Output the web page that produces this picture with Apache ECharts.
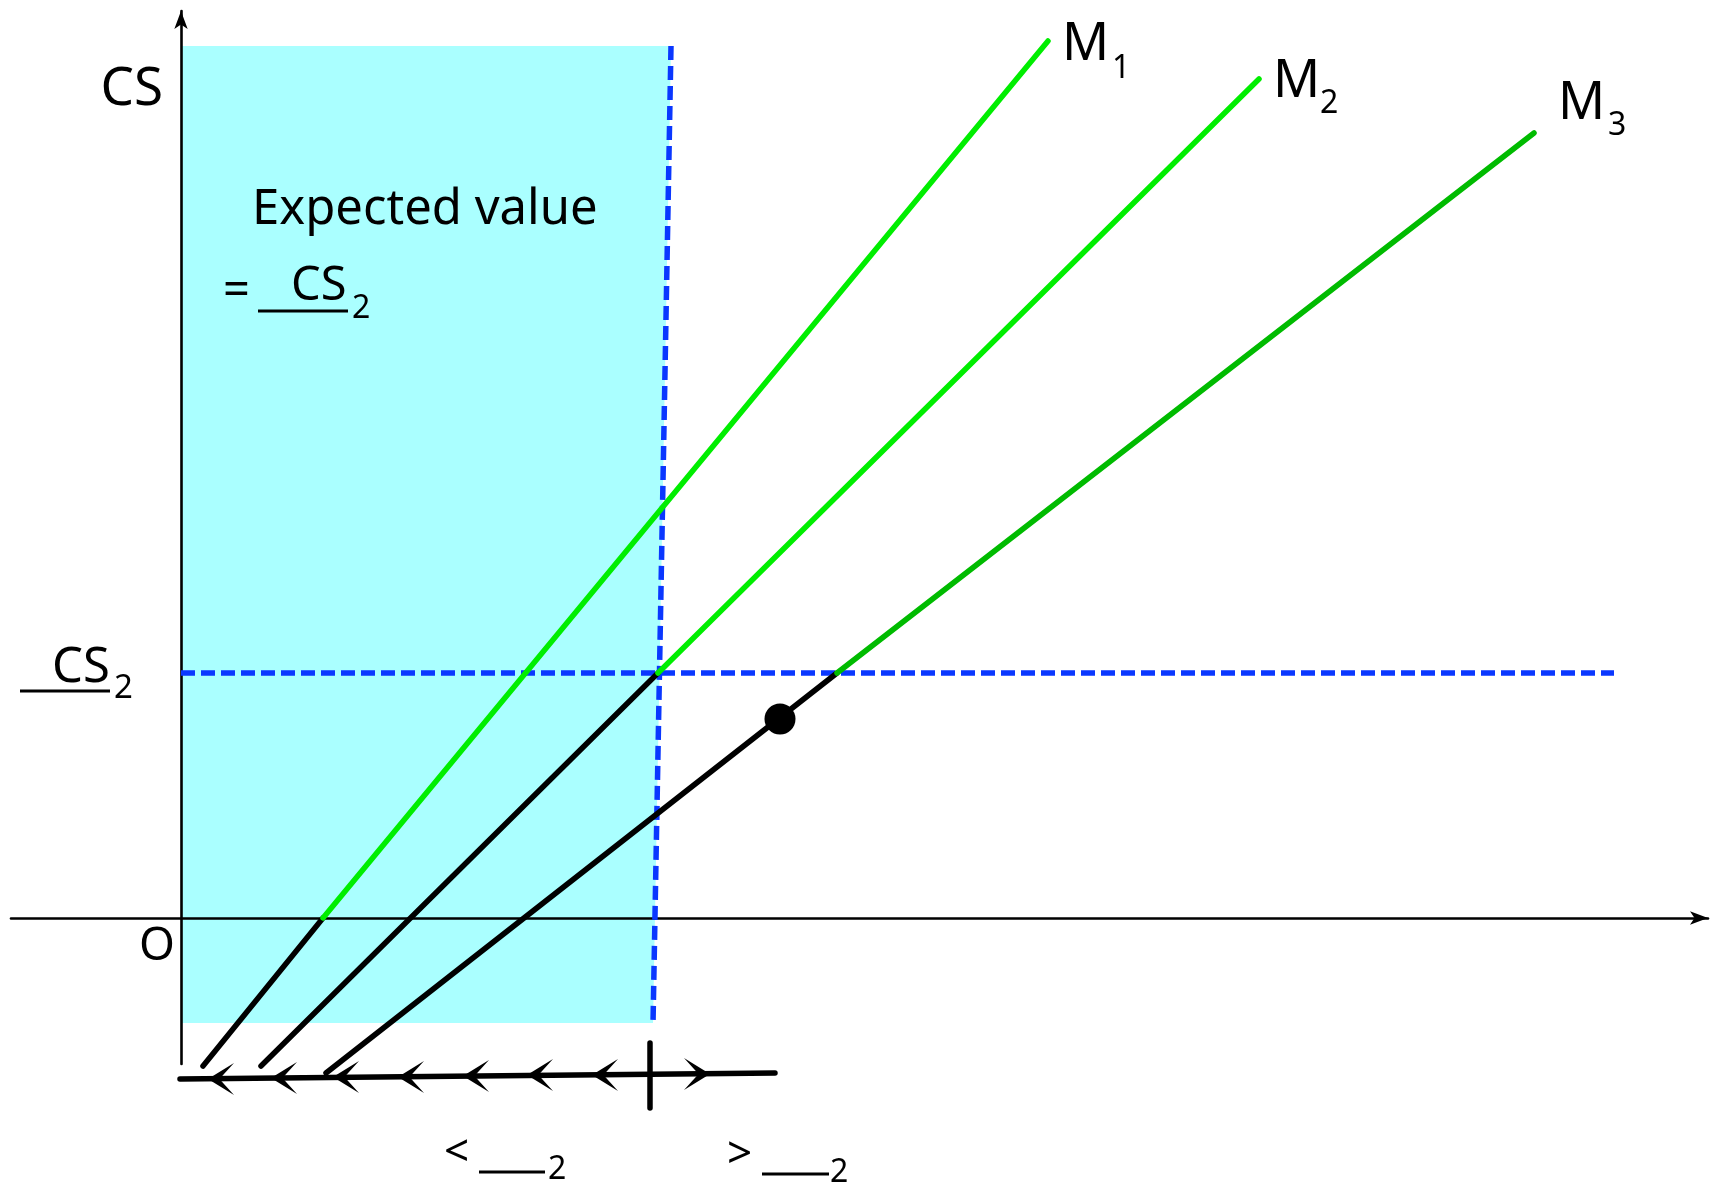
<!DOCTYPE html>
<html><head><meta charset="utf-8">
<script src="https://cdn.jsdelivr.net/npm/echarts@6/dist/echarts.min.js"></script>
<style>html,body{margin:0;padding:0;background:#fff}#c{width:1722px;height:1186px}</style>
</head><body><div id="c"></div>
<script>
// ---- data (schematic units, origin at the axis crossing) ----
const shadedRegion = [[0, 87.2], [49.0, 87.2], [47.2, -10.5], [0, -10.5]];
const cs2Level = [[0, 24.5], [143.3, 24.5]];
const thresholdLine = [[49.0, 87.2], [47.2, -10.6]];
const m1Below = [[2.2, -14.8], [14.2, 0]];
const m1Above = [[14.2, 0], [86.7, 87.7]];
const m2Below = [[8.0, -14.8], [47.7, 24.5]];
const m2Above = [[47.7, 24.5], [107.8, 83.9]];
const m3Below = [[14.5, -15.5], [65.6, 24.5]];
const m3Above = [[65.6, 24.5], [135.3, 78.5]];
const currentPoint = [[59.9, 19.9]];
const dynamicsLine = [[-0.1, -16.1], [59.4, -15.5]];
const leftArrows = [[2.7, -16.1], [9.0, -16.0], [15.2, -15.9], [21.7, -15.9], [28.2, -15.8], [34.6, -15.7], [41.1, -15.7]];
const rightArrows = [[52.9, -15.6]];
const thresholdTick = [[46.9, -12.5], [46.9, -19.0]];

const FONT = '"Noto Sans", "DejaVu Sans", sans-serif';
const chart = echarts.init(document.getElementById('c'), null, {renderer: 'canvas'});

function seg(data, color, width, extra) {
  return Object.assign({
    type: 'line', data: data, showSymbol: false, symbol: 'none', clip: false, silent: true,
    lineStyle: {color: color, width: width, cap: 'round', opacity: 1}, z: 3
  }, extra || {});
}
function txt(text, x, y, size, align) {
  return {type: 'text', x: x, y: y, silent: true, z: 100,
    style: {text: text, font: 'normal ' + size + 'px ' + FONT, fill: '#000', align: align || 'left', verticalAlign: 'middle'}};
}
function uline(x1, x2, y) {
  return {type: 'line', silent: true, z: 100, shape: {x1: x1, y1: y, x2: x2, y2: y}, style: {stroke: '#000', lineWidth: 2.8}};
}

const dashStyle = {color: '#0a37ff', width: 5.5, type: [14, 6], cap: 'butt', opacity: 1};
const LEFT_HEAD = 'path://M0,15 L25,0 L11,15 L25,30 Z';
const RIGHT_HEAD = 'path://M25,15 L0,0 L14,15 L0,30 Z';

chart.setOption({
  animation: false,
  backgroundColor: '#ffffff',
  grid: {left: 11, right: 14, top: 11, bottom: 122, containLabel: false},
  xAxis: {
    type: 'value', min: -17.0, max: 152.7,
    axisLine: {onZero: true, symbol: ['none', 'arrow'], symbolSize: [10, 18], lineStyle: {color: '#000', width: 2.6}},
    axisTick: {show: false}, axisLabel: {show: false}, splitLine: {show: false}
  },
  yAxis: {
    type: 'value', min: -14.6, max: 90.7,
    axisLine: {onZero: true, symbol: ['none', 'arrow'], symbolSize: [10, 18], lineStyle: {color: '#000', width: 2.6}},
    axisTick: {show: false}, axisLabel: {show: false}, splitLine: {show: false}
  },
  series: [
    {
      type: 'custom', data: shadedRegion, z: -1, silent: true, clip: false,
      renderItem: function (params, api) {
        if (params.dataIndex !== 0) return null;
        return {type: 'polygon', shape: {points: shadedRegion.map(p => api.coord(p))}, style: {fill: '#aaffff'}};
      }
    },
    seg(cs2Level, '#0a37ff', 5.5, {lineStyle: dashStyle, z: 2}),
    seg(thresholdLine, '#0a37ff', 5.5, {lineStyle: dashStyle, z: 2}),
    seg(m1Below, '#000', 5.5),
    seg(m1Above, '#00ee00', 5.5),
    seg(m2Below, '#000', 5.5),
    seg(m2Above, '#00ee00', 5.5),
    seg(m3Below, '#000', 5.5),
    seg(m3Above, '#00bb00', 5.5),
    seg(dynamicsLine, '#000', 5.5),
    seg(thresholdTick, '#000', 5.5),
    {
      type: 'scatter', data: leftArrows, clip: false, silent: true, z: 5,
      symbol: LEFT_HEAD, symbolSize: [26, 32], symbolOffset: [13, 0],
      itemStyle: {color: '#000', opacity: 1}
    },
    {
      type: 'scatter', data: rightArrows, clip: false, silent: true, z: 5,
      symbol: RIGHT_HEAD, symbolSize: [26, 32], symbolOffset: [-13, 0],
      itemStyle: {color: '#000', opacity: 1}
    },
    {
      type: 'scatter', data: currentPoint, clip: false, silent: true, z: 6,
      symbol: 'circle', symbolSize: 31, itemStyle: {color: '#000', opacity: 1}
    }
  ],
  graphic: [
    txt('CS', 163, 90, 53, 'right'),
    txt('O', 157, 947, 46, 'center'),
    txt('Expected value', 252, 210, 49),
    txt('=', 223, 292, 47),
    txt('CS', 291, 287, 47),
    uline(258, 348, 311),
    txt('2', 352, 309, 32),
    txt('CS', 52, 668, 49),
    uline(20, 110, 691),
    txt('2', 114, 689, 33),
    txt('M', 1062, 45, 52),
    txt('1', 1112, 69, 32),
    txt('M', 1273, 82, 52),
    txt('2', 1320, 104, 32),
    txt('M', 1558, 104, 52),
    txt('3', 1608, 126, 32),
    txt('<', 444, 1153, 44),
    uline(479, 545, 1172),
    txt('2', 548, 1170, 32),
    txt('>', 727, 1155, 44),
    uline(762, 829, 1174),
    txt('2', 830, 1173, 32)
  ]
});
</script>
</body></html>
